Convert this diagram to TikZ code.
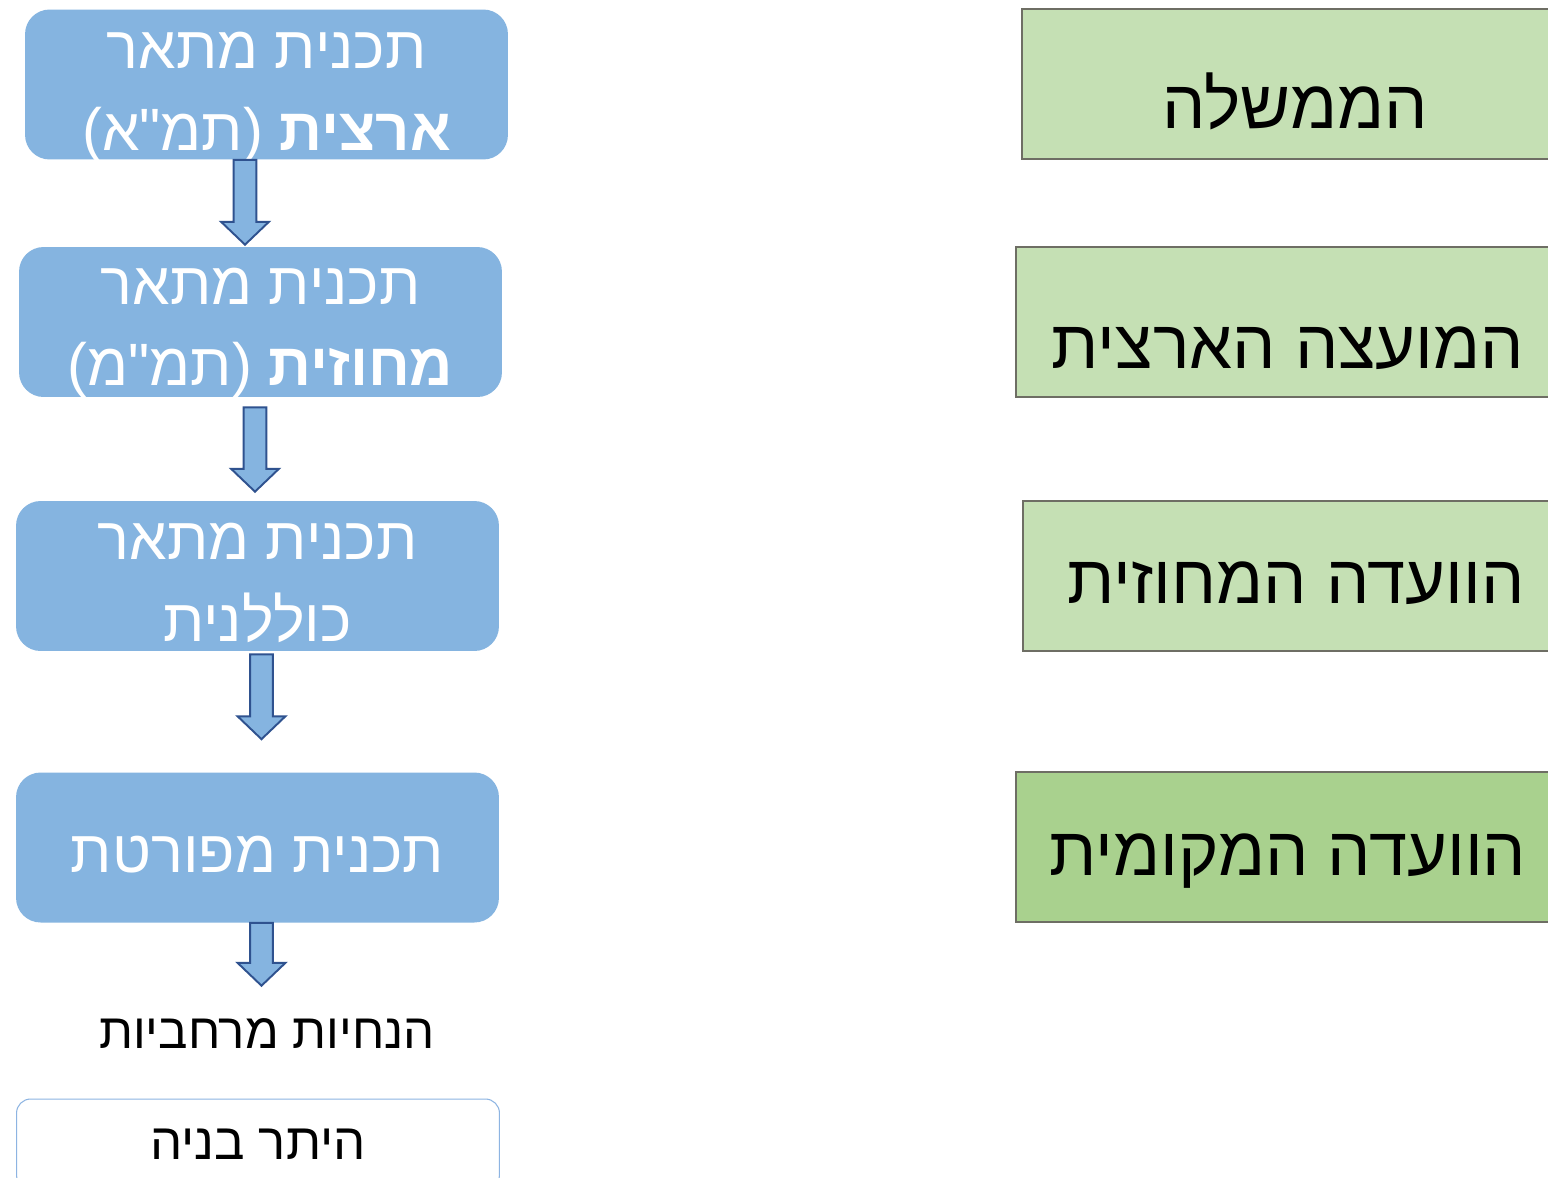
\documentclass[tikz,border=0pt]{standalone}
\usepackage{fontspec}
\usetikzlibrary{calc}
\TeXXeTstate=1
\newfontfamily\hebfont[Script=Hebrew]{Liberation Sans}
\definecolor{planblue}{RGB}{133,180,224}
\definecolor{arrowedge}{RGB}{47,82,143}
\definecolor{govgreen}{RGB}{197,224,180}
\definecolor{localgreen}{RGB}{169,209,142}
\definecolor{govedge}{RGB}{110,110,100}
\definecolor{permitedge}{RGB}{141,180,226}

\tikzset{
  planbox/.style={rounded corners=14pt, fill=planblue, inner sep=0pt,
    minimum width=9.66cm, minimum height=3cm},
  plantext/.style={text=white, inner sep=0pt, align=center,
    font=\hebfont\fontsize{34}{46.5}\selectfont},
  permitbox/.style={rounded corners=8pt, draw=permitedge, line width=0.6pt, fill=white,
    inner sep=0pt, minimum width=9.66cm, minimum height=1.8cm,
    font=\hebfont\fontsize{29}{34}\selectfont},
  guidetext/.style={anchor=base, inner sep=0pt, font=\hebfont\fontsize{28}{32}\selectfont},
  govbox/.style={fill=govgreen, draw=govedge, line width=1.1pt, minimum height=3cm},
  govtext/.style={anchor=base, inner sep=0pt, font=\hebfont\fontsize{39}{46}\selectfont},
  blockarrow/.style={draw=arrowedge, fill=planblue, line width=1.1pt,
    to path={let \p1=(\tikztostart), \p2=(\tikztotarget) in
      (\x1-6.5pt,\y1) -- (\x1+6.5pt,\y1) -- (\x1+6.5pt,\y2+13pt) -- (\x1+13.6pt,\y2+13pt)
      -- (\x1,\y2) -- (\x1-13.6pt,\y2+13pt) -- (\x1-6.5pt,\y2+13pt) -- cycle}}
}

\begin{document}
\begin{tikzpicture}[x=0.02cm,y=-0.02cm]
\clip (0,0) rectangle (1548,1177);
\fill[white] (0,0) rectangle (1548,1177);

% plans
\node[planbox] (p1) at (266.5,84.5) {};
\node[planbox] (p2) at (260.5,322) {};
\node[planbox] (p3) at (257.5,576) {};
\node[planbox] (p4) at (257.5,847.5) {};
\node[plantext] (p1text) at (266.5,97.5) {\beginR תכנית מתאר\endR\\\beginR\textbf{ארצית} (תמ"א)\endR};
\node[plantext] (p2text) at (260.5,333) {\beginR תכנית מתאר\endR\\\beginR\textbf{מחוזית} (תמ"מ)\endR};
\node[plantext] (p3text) at (257.5,583) {\beginR תכנית מתאר\endR\\\beginR כוללנית\endR};
\node[plantext] (p4text) at (257.5,854.5) {\beginR תכנית מפורטת\endR};
\node[guidetext] (guide) at (267,1048) {\beginR הנחיות מרחביות\endR};
\node[permitbox] (permit) at (258,1144) {\beginR היתר בניה\endR};

\draw[blockarrow] (p1.south -| 245,0) to ($(p2.north -| 245,0)+(0,-2)$);
\draw[blockarrow] ($(p2.south -| 255,0)+(0,10)$) to ($(p3.north -| 255,0)+(0,-9)$);
\draw[blockarrow] ($(p3.south -| 261.5,0)+(0,3)$) to ($(p4.north -| 261.5,0)+(0,-33)$);
\draw[blockarrow] (p4.south -| 261.5,0) to ($(guide.north -| 261.5,0)+(0,-32)$);

% bodies
\node[govbox, minimum width=10.96cm] (gov) at (1296,84) {};
\node[govbox, minimum width=11.08cm] (national) at (1293,322) {};
\node[govbox, minimum width=10.94cm] (district) at (1296.5,576) {};
\node[govbox, minimum width=11.08cm, fill=localgreen] (local) at (1293,847) {};
\node[govtext] (govlabel) at (1295,128) {\beginR הממשלה\endR};
\node[govtext] (nationallabel) at (1288,368) {\beginR המועצה הארצית\endR};
\node[govtext] (districtlabel) at (1296,603) {\beginR הוועדה המחוזית\endR};
\node[govtext] (locallabel) at (1288,875) {\beginR הוועדה המקומית\endR};
\end{tikzpicture}
\end{document}
